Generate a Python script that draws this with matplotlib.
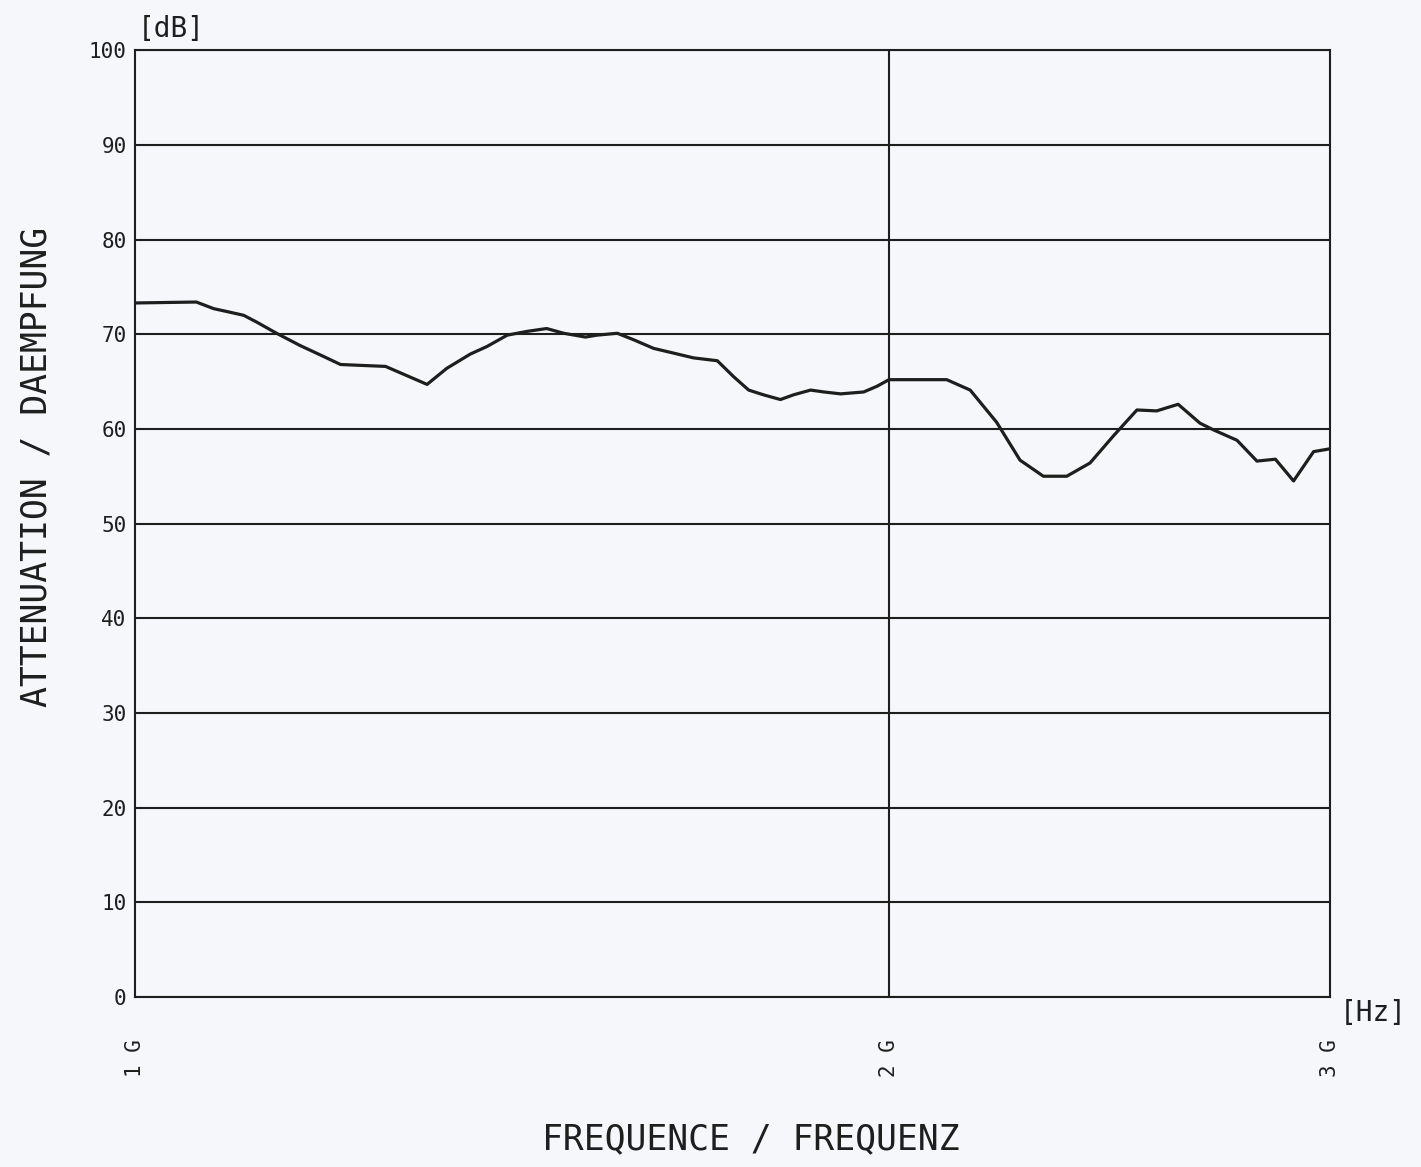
import matplotlib
matplotlib.use("Agg")
import matplotlib.pyplot as plt
from matplotlib.ticker import FixedLocator, NullLocator

# attenuation curve (frequency in GHz, attenuation in dB)
freq_ghz = [1.000, 1.058, 1.075, 1.088, 1.105, 1.118, 1.139, 1.164, 1.186, 1.208,
            1.259, 1.308, 1.332, 1.361, 1.382, 1.408, 1.434, 1.460, 1.483, 1.513,
            1.529, 1.558, 1.582, 1.611, 1.641, 1.671, 1.708, 1.734, 1.758, 1.782,
            1.810, 1.832, 1.861, 1.884, 1.913, 1.954, 1.978, 2.000, 2.058, 2.109,
            2.155, 2.208, 2.256, 2.305, 2.355, 2.406, 2.459, 2.512, 2.558, 2.609,
            2.662, 2.695, 2.754, 2.805, 2.853, 2.901, 2.955, 3.000]
atten_db = [73.3, 73.4, 72.7, 72.4, 72.0, 71.3, 70.1, 68.8, 67.8, 66.8,
            66.6, 64.7, 66.4, 67.9, 68.7, 69.9, 70.3, 70.6, 70.1, 69.7,
            69.9, 70.1, 69.4, 68.5, 68.0, 67.5, 67.2, 65.5, 64.1, 63.6,
            63.1, 63.6, 64.1, 63.9, 63.7, 63.9, 64.5, 65.2, 65.2, 65.2,
            64.1, 60.7, 56.7, 55.0, 55.0, 56.4, 59.3, 62.0, 61.9, 62.6,
            60.6, 59.9, 58.8, 56.6, 56.8, 54.5, 57.6, 57.9]

y_ticks = [0, 10, 20, 30, 40, 50, 60, 70, 80, 90, 100]
x_ticks = [1.0, 2.0, 3.0]
x_labels = ["1 G", "2 G", "3 G"]

PAPER = "#f6f7fa"
INK = "#1e1e1e"
FONT = "DejaVu Sans Mono"

fig = plt.figure(figsize=(14.21, 11.67), dpi=100, facecolor=PAPER)
ax = fig.add_axes([0.095, 0.1457, 0.841, 0.8113], facecolor=PAPER)

ax.set_xscale("log")
ax.set_xlim(1.0, 3.0)
ax.set_ylim(0, 100)

# grid: every 10 dB, plus the 2 GHz vertical
for v in y_ticks:
    ax.axhline(v, color=INK, lw=1.5, zorder=1)
ax.axvline(2.0, color=INK, lw=1.5, zorder=1)

ax.plot(freq_ghz, atten_db, color=INK, lw=2.3, zorder=3, solid_joinstyle="round")

for s in ax.spines.values():
    s.set_color(INK)
    s.set_linewidth(1.5)

ax.yaxis.set_major_locator(FixedLocator(y_ticks))
ax.set_yticklabels([str(v) for v in y_ticks], family=FONT, fontsize=15, color=INK)
ax.tick_params(axis="y", length=0, pad=6)

ax.xaxis.set_major_locator(FixedLocator(x_ticks))
ax.xaxis.set_minor_locator(NullLocator())
ax.set_xticklabels(x_labels, family=FONT, fontsize=15, color=INK, rotation=90)
ax.tick_params(axis="x", which="both", length=0, pad=30)

# axis titles placed on the sheet like the plotter did
fig.text(0.528, 0.024, "FREQUENCE / FREQUENZ", family=FONT, fontsize=25,
         color=INK, ha="center", va="center")
fig.text(0.026, 0.6, "ATTENUATION / DAEMPFUNG", family=FONT, fontsize=25,
         color=INK, ha="center", va="center", rotation=90)

fig.text(0.097, 0.975, "[dB]", family=FONT, fontsize=20, color=INK, ha="left", va="center")
fig.text(0.943, 0.132, "[Hz]", family=FONT, fontsize=20, color=INK, ha="left", va="center")

fig.savefig("out.png", dpi=100, facecolor=PAPER)
